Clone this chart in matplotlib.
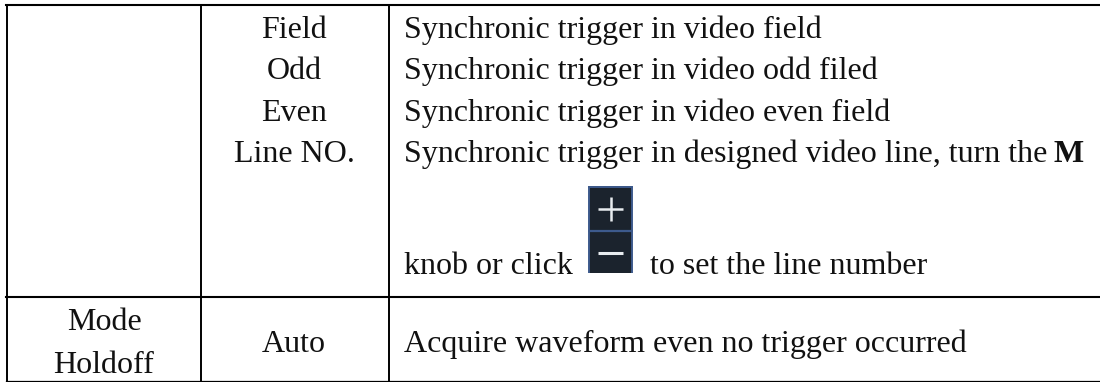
# -*- coding: utf-8 -*-
import matplotlib
matplotlib.use('Agg')
import matplotlib.pyplot as plt
from matplotlib.patches import Rectangle

plt.rcParams['font.family'] = ['Liberation Serif']

col2_labels = ['Field', 'Odd', 'Even', 'Line NO.']
col3_labels = ['Synchronic trigger in video field',
               'Synchronic trigger in video odd filed',
               'Synchronic trigger in video even field',
               'Synchronic trigger in designed video line, turn the']
mode_labels = ['Mode', 'Holdoff']
bold_word = 'M'
knob_left = 'knob or click'
knob_right = 'to set the line number'
auto_label = 'Auto'
auto_desc = 'Acquire waveform even no trigger occurred'

fs = 23
ink = '#111111'
edge = '#3d5a8c'
glyph = '#e8ecef'

fig = plt.figure(figsize=(11, 3.82), dpi=100)
ax = fig.add_axes([0, 0, 1, 1])
ax.set_xlim(0, 1100)
ax.set_ylim(382, 0)
ax.axis('off')

# table rules
ax.plot([6, 1100], [5, 5], color='black', lw=1.5)
ax.plot([6, 1100], [297, 297], color='black', lw=1.5)
ax.plot([6, 1100], [381, 381], color='black', lw=0.9)
for x in [7, 201, 389]:
    ax.plot([x, x], [5, 381], color='black', lw=1.4)

# middle column and description lines
baselines = [38, 79, 121, 162]
for lab, y in zip(col2_labels, baselines):
    ax.text(294, y, lab, fontsize=fs, ha='center', va='baseline', color=ink)
for lab, y in zip(col3_labels, baselines):
    ax.text(404, y, lab, fontsize=fs, ha='left', va='baseline', color=ink)
ax.text(1084, 162, bold_word, fontsize=fs, ha='right', va='baseline',
        color=ink, fontweight='bold')

ax.text(404, 274, knob_left, fontsize=fs, ha='left', va='baseline', color=ink)
ax.text(650, 274, knob_right, fontsize=fs, ha='left', va='baseline', color=ink)

# +/- button icon, the picture is cut off at the bottom so no lower edge
ax.add_patch(Rectangle((589, 186), 43, 87, facecolor='#1b232d', edgecolor='none'))
ax.plot([589, 589], [186, 273], color=edge, lw=1.4, solid_capstyle='butt')
ax.plot([632, 632], [186, 273], color=edge, lw=1.4, solid_capstyle='butt')
ax.plot([588, 633], [186.5, 186.5], color=edge, lw=1.4, solid_capstyle='butt')
ax.plot([588, 633], [230.5, 230.5], color=edge, lw=1.6, solid_capstyle='butt')
ax.plot([598, 623], [209, 209], color=glyph, lw=1.8, solid_capstyle='butt')
ax.plot([611, 611], [197, 221], color=glyph, lw=1.8, solid_capstyle='butt')
ax.plot([598, 623], [253, 253], color=glyph, lw=2.2, solid_capstyle='butt')

# last row
for lab, y in zip(mode_labels, [330, 373]):
    ax.text(104, y, lab, fontsize=fs, ha='center', va='baseline', color=ink)
ax.text(294, 352, auto_label, fontsize=fs, ha='center', va='baseline', color=ink)
ax.text(404, 352, auto_desc, fontsize=fs, ha='left', va='baseline', color=ink)

fig.savefig('out.png', dpi=100)
